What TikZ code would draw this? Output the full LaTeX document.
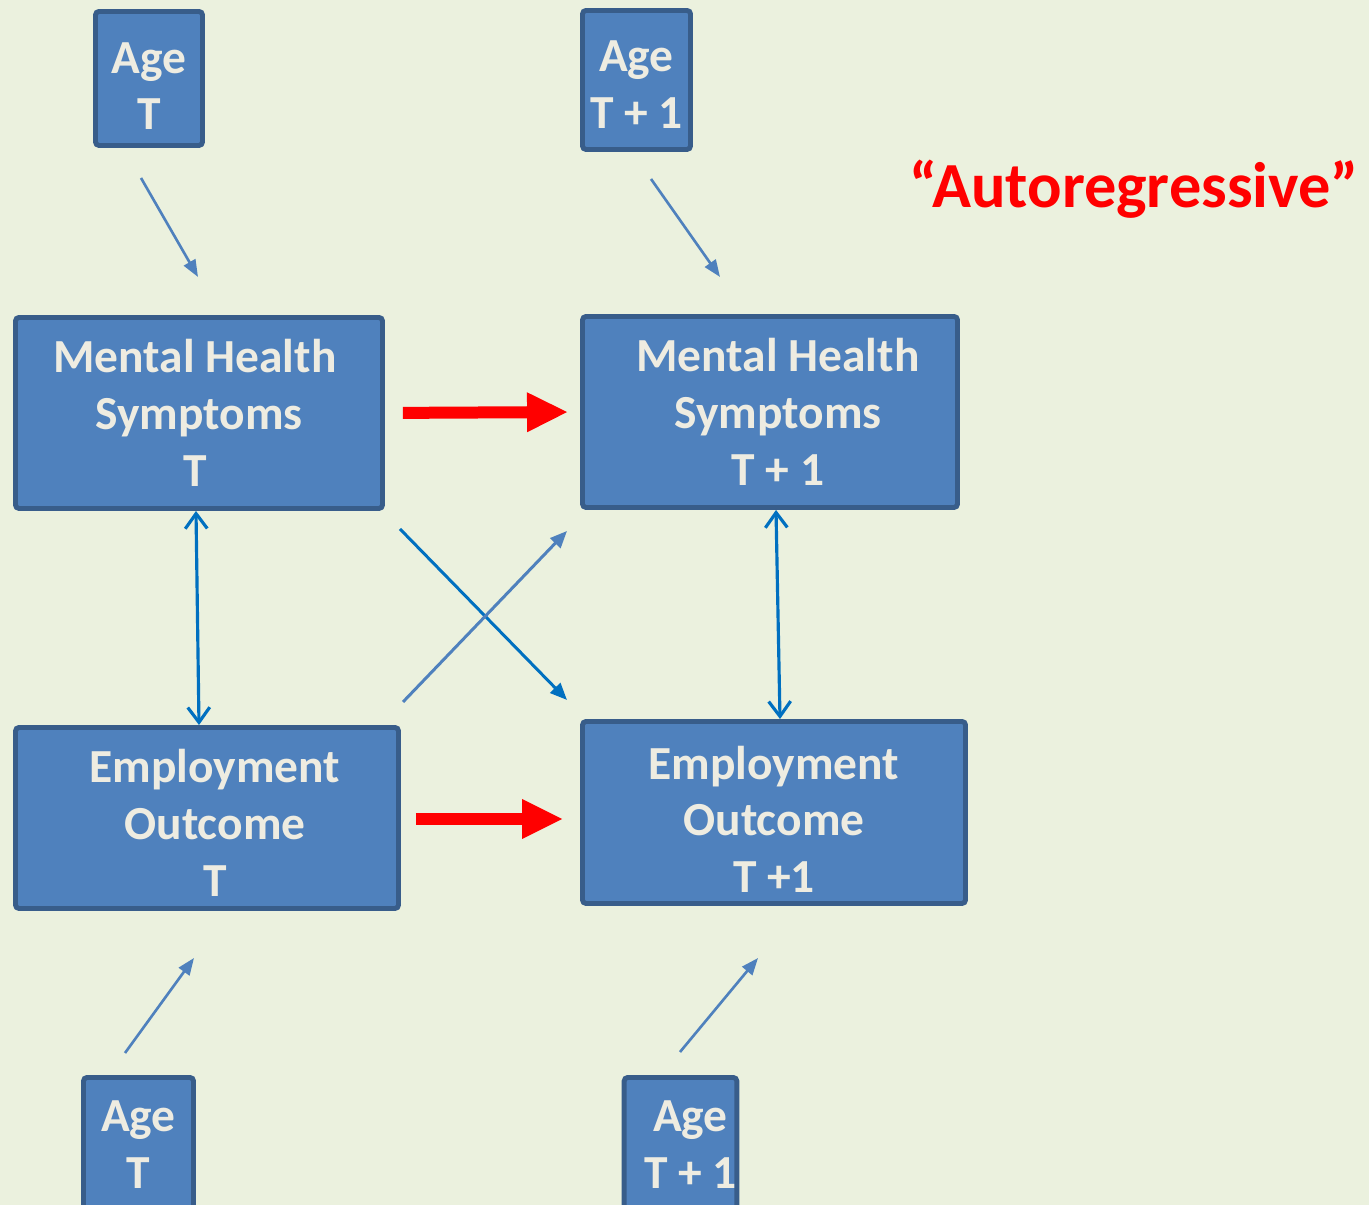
\documentclass[tikz,border=0pt]{standalone}
\usepackage{fontspec}
\setmainfont{Carlito}
\usetikzlibrary{arrows.meta}
\definecolor{bg_green}{HTML}{EBF1DE}
\definecolor{box_blue}{HTML}{4F81BD}
\definecolor{box_line}{HTML}{385D8A}
\definecolor{txt_light}{HTML}{EEECE1}
\definecolor{link_blue}{HTML}{0070C0}
\newcommand{\boxtoplift}[1]{\rule{0pt}{#1}}
\newcommand{\boxrshift}{\hspace*{0.16cm}}
\tikzset{
  box/.style={draw=box_line, fill=box_blue, line width=1.4pt, rounded corners=1pt,
    text=txt_light, font=\fontsize{13.5}{16.2}\selectfont\bfseries, align=center, inner sep=0pt},
  age_arrow/.style={box_blue, line width=0.75pt, -{Triangle[length=0.17cm,width=0.13cm]}},
  cross_arrow/.style={line width=0.85pt, -{Triangle[length=0.17cm,width=0.14cm]}},
  both_arrow/.style={link_blue, line width=0.9pt,
    {Straight Barb[length=0.15cm,width=0.22cm]}-{Straight Barb[length=0.15cm,width=0.22cm]}},
  red_arrow/.style={red, line width=0.12cm, -{Triangle[length=0.40cm,width=0.40cm,line width=0pt]}}
}
\begin{document}
\begin{tikzpicture}

\useasboundingbox (0,0) rectangle (13.69,12.05) ;
\fill[bg_green] (0,0) rectangle (13.69,12.05) ;
\clip (0,0) rectangle (13.69,12.05) ;

\node[box, minimum width=1.07cm, minimum height=1.34cm] (age_t) at (1.49,11.265) {\boxtoplift{0.46cm}Age\\T} ;
\node[box, minimum width=1.08cm, minimum height=1.39cm] (age_t1) at (6.365,11.25) {\boxtoplift{0.40cm}Age\\T + 1} ;
\node[box, minimum width=3.67cm, minimum height=1.91cm] (mh_t) at (1.99,7.92) {Mental Health\hspace*{0.08cm}\\Symptoms\hspace*{0.08cm}\\T\hspace*{0.08cm}} ;
\node[box, minimum width=3.75cm, minimum height=1.91cm] (mh_t1) at (7.70,7.93) {\boxrshift Mental Health\\\boxrshift Symptoms\\\boxrshift T + 1} ;
\node[box, minimum width=3.83cm, minimum height=1.81cm] (eo_t) at (2.07,3.87) {\boxtoplift{0.43cm}\boxrshift Employment\\\boxrshift Outcome\\\boxrshift T} ;
\node[box, minimum width=3.83cm, minimum height=1.82cm] (eo_t1) at (7.74,3.925) {\boxtoplift{0.47cm}Employment\\Outcome\\T +1} ;
\node[box, minimum width=1.10cm, minimum height=1.35cm] (age_b) at (1.385,0.60) {Age\\T} ;
\node[box, minimum width=1.08cm, minimum height=1.35cm] (age_b1) at (6.805,0.60) {\hspace*{0.2cm}Age\\\hspace*{0.2cm}T + 1} ;

\node[red, font=\fontsize{18.3}{22}\selectfont\bfseries, anchor=base] (title) at (11.34,9.97) {“Autoregressive”} ;

\coordinate (pt_age_t_a) at (1.41,10.27) ;
\coordinate (pt_age_t_b) at (1.98,9.28) ;
\coordinate (pt_age_t1_a) at (6.51,10.26) ;
\coordinate (pt_age_t1_b) at (7.20,9.28) ;
\coordinate (pt_age_b_a) at (1.25,1.52) ;
\coordinate (pt_age_b_b) at (1.94,2.47) ;
\coordinate (pt_age_b1_a) at (6.80,1.53) ;
\coordinate (pt_age_b1_b) at (7.58,2.47) ;
\coordinate (pt_cross_a) at (4.00,6.76) ;
\coordinate (pt_cross_b) at (5.67,5.05) ;
\coordinate (pt_cross_c) at (4.03,5.03) ;
\coordinate (pt_cross_d) at (5.67,6.74) ;

\draw[age_arrow] (pt_age_t_a) -- (pt_age_t_b) ;
\draw[age_arrow] (pt_age_t1_a) -- (pt_age_t1_b) ;
\draw[age_arrow] (pt_age_b_a) -- (pt_age_b_b) ;
\draw[age_arrow] (pt_age_b1_a) -- (pt_age_b1_b) ;

\draw[red_arrow, shorten <=0.18cm, shorten >=0.13cm] (mh_t.east) -- (mh_t1.west) ;
\draw[red_arrow, shorten <=0.15cm, shorten >=0.18cm] ([yshift=-0.01cm]eo_t.east) -- ([yshift=-0.01cm]eo_t.east -| eo_t1.west) ;

\draw[both_arrow] ([xshift=-0.03cm]mh_t.south) -- ([xshift=-0.08cm]eo_t.north) ;
\draw[both_arrow] ([xshift=0.06cm]mh_t1.south) -- ([xshift=0.06cm]eo_t1.north) ;

\draw[cross_arrow, link_blue] (pt_cross_a) -- (pt_cross_b) ;
\draw[cross_arrow, box_blue] (pt_cross_c) -- (pt_cross_d) ;

\end{tikzpicture}
\end{document}
